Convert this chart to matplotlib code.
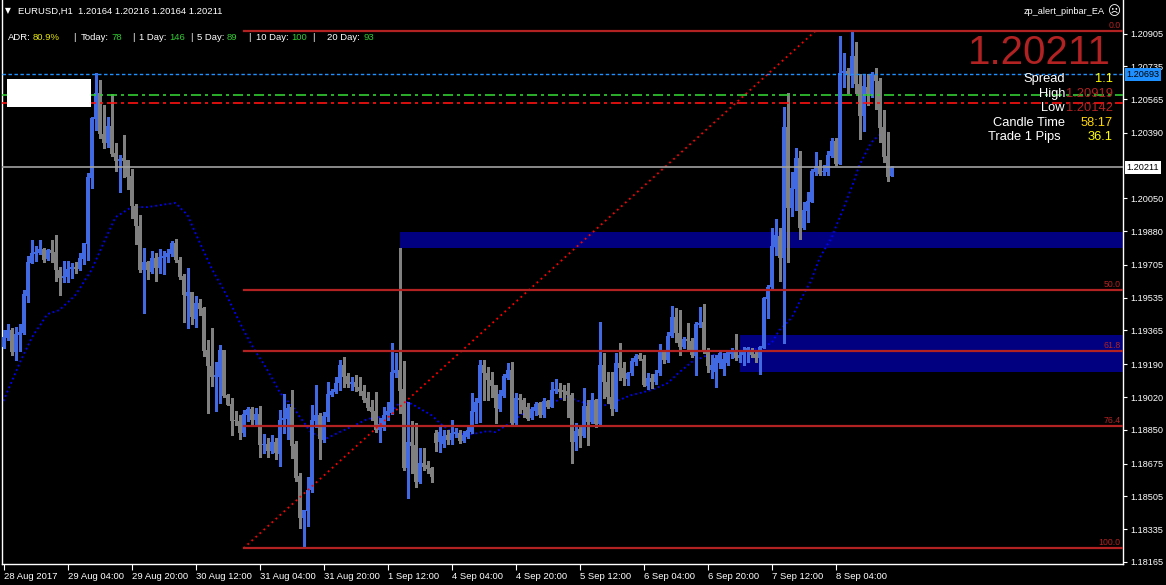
import matplotlib
matplotlib.use("Agg")
import matplotlib.pyplot as plt
from matplotlib.patches import Rectangle
from matplotlib.transforms import blended_transform_factory

plt.rcParams['font.family'] = ['Liberation Sans', 'DejaVu Sans']

# ---- hourly EURUSD candles (28 Aug 12:00 .. 8 Sep 18:00) ----
opens = [1.19281, 1.19324, 1.19368, 1.19255, 1.19342, 1.19350, 1.19544, 1.19717, 1.19762, 1.19766,
         1.19786, 1.19736, 1.19783, 1.19772, 1.19679, 1.19637, 1.19642, 1.19684, 1.19695, 1.19684,
         1.19736, 1.19815, 1.20158, 1.20462, 1.20597, 1.20384, 1.20337, 1.20426, 1.20286, 1.20244,
         1.20260, 1.20249, 1.20166, 1.20011, 1.19907, 1.19679, 1.19720, 1.19668, 1.19741, 1.19689,
         1.19741, 1.19746, 1.19762, 1.19819, 1.19731, 1.19648, 1.19544, 1.19565, 1.19425, 1.19508,
         1.19482, 1.19264, 1.19181, 1.19124, 1.19124, 1.19264, 1.19030, 1.18984, 1.18901, 1.18896,
         1.18833, 1.18927, 1.18958, 1.18901, 1.18932, 1.18771, 1.18776, 1.18740, 1.18787, 1.18725,
         1.18901, 1.18906, 1.18968, 1.18776, 1.18610, 1.18391, 1.18429, 1.18538, 1.18895, 1.18927,
         1.18797, 1.18918, 1.19030, 1.19046, 1.19094, 1.19186, 1.19129, 1.19087, 1.19099, 1.19073,
         1.19051, 1.19016, 1.18970, 1.18947, 1.18849, 1.18857, 1.18927, 1.18939, 1.19146, 1.19160,
         1.19061, 1.18650, 1.18788, 1.18771, 1.18581, 1.18679, 1.18667, 1.18650, 1.18835, 1.18788,
         1.18776, 1.18823, 1.18797, 1.18828, 1.18831, 1.18793, 1.18814, 1.18840, 1.18944, 1.18987,
         1.19186, 1.19146, 1.19108, 1.19082, 1.18956, 1.19025, 1.19120, 1.19160, 1.18887, 1.19016,
         1.19004, 1.18966, 1.18909, 1.18949, 1.18987, 1.18927, 1.19000, 1.18970, 1.19051, 1.19061,
         1.19056, 1.19051, 1.19030, 1.18788, 1.18852, 1.18818, 1.18973, 1.18892, 1.19004, 1.18880,
         1.19185, 1.19100, 1.19021, 1.18958, 1.19199, 1.19168, 1.19116, 1.19142, 1.19203, 1.19237,
         1.19215, 1.19078, 1.19120, 1.19099, 1.19142, 1.19253, 1.19211, 1.19336, 1.19434, 1.19350,
         1.19280, 1.19320, 1.19310, 1.19232, 1.19393, 1.19408, 1.19263, 1.19159, 1.19151, 1.19199,
         1.19165, 1.19199, 1.19241, 1.19255, 1.19223, 1.19237, 1.19251, 1.19263, 1.19241, 1.19223,
         1.19275, 1.19528, 1.19588, 1.19799, 1.19856, 1.19742, 1.20422, 1.19998, 1.20098, 1.20261,
         1.19898, 1.19986, 1.20033, 1.20188, 1.20219, 1.20185, 1.20188, 1.20271, 1.20347, 1.20231,
         1.20698, 1.20712, 1.20686, 1.20788, 1.20641, 1.20479, 1.20629, 1.20589, 1.20690, 1.20659,
         1.20422, 1.20269, 1.20164]
highs = [1.19368, 1.19399, 1.19376, 1.19385, 1.19399, 1.19575, 1.19752, 1.19834, 1.19803, 1.19834,
         1.19791, 1.19788, 1.19834, 1.19860, 1.19696, 1.19726, 1.19726, 1.19716, 1.19722, 1.19767,
         1.19819, 1.20182, 1.20474, 1.20701, 1.20664, 1.20535, 1.20472, 1.20592, 1.20337, 1.20275,
         1.20379, 1.20249, 1.20203, 1.20021, 1.19964, 1.19793, 1.19726, 1.19777, 1.19767, 1.19788,
         1.19777, 1.19788, 1.19829, 1.19840, 1.19746, 1.19658, 1.19689, 1.19565, 1.19544, 1.19528,
         1.19487, 1.19316, 1.19378, 1.19202, 1.19290, 1.19264, 1.19036, 1.19015, 1.18947, 1.18927,
         1.18953, 1.18968, 1.18968, 1.18963, 1.18973, 1.18828, 1.18807, 1.18823, 1.18807, 1.18953,
         1.19036, 1.18984, 1.19056, 1.18792, 1.18628, 1.18434, 1.18607, 1.18978, 1.19082, 1.18935,
         1.18944, 1.19096, 1.19061, 1.19125, 1.19212, 1.19229, 1.19143, 1.19125, 1.19134, 1.19125,
         1.19082, 1.19048, 1.19004, 1.19048, 1.18909, 1.18970, 1.18996, 1.19298, 1.19250, 1.19793,
         1.19208, 1.18996, 1.18895, 1.18883, 1.18754, 1.18754, 1.18690, 1.18655, 1.18849, 1.18863,
         1.18849, 1.18849, 1.18901, 1.18857, 1.18849, 1.18845, 1.18866, 1.19039, 1.19013, 1.19212,
         1.19212, 1.19177, 1.19151, 1.19082, 1.19056, 1.19139, 1.19195, 1.19203, 1.19042, 1.19036,
         1.19013, 1.18987, 1.18970, 1.18996, 1.18996, 1.19013, 1.19004, 1.19099, 1.19112, 1.19091,
         1.19082, 1.19091, 1.19039, 1.18883, 1.18869, 1.19065, 1.19004, 1.19042, 1.19008, 1.19410,
         1.19246, 1.19151, 1.19151, 1.19250, 1.19298, 1.19203, 1.19151, 1.19220, 1.19241, 1.19246,
         1.19237, 1.19142, 1.19137, 1.19159, 1.19293, 1.19258, 1.19358, 1.19491, 1.19483, 1.19471,
         1.19332, 1.19402, 1.19324, 1.19410, 1.19488, 1.19502, 1.19272, 1.19237, 1.19237, 1.19255,
         1.19246, 1.19258, 1.19275, 1.19345, 1.19258, 1.19281, 1.19281, 1.19275, 1.19263, 1.19286,
         1.19540, 1.19600, 1.19894, 1.19941, 1.19894, 1.20522, 1.20595, 1.20188, 1.20313, 1.20295,
         1.20033, 1.20085, 1.20202, 1.20292, 1.20249, 1.20223, 1.20295, 1.20361, 1.20361, 1.20892,
         1.20802, 1.20724, 1.20919, 1.20863, 1.20693, 1.20693, 1.20693, 1.20707, 1.20728, 1.20676,
         1.20508, 1.20392, 1.20216]
lows = [1.19272, 1.19316, 1.19238, 1.19212, 1.19260, 1.19347, 1.19515, 1.19714, 1.19726, 1.19762,
        1.19722, 1.19731, 1.19722, 1.19623, 1.19549, 1.19618, 1.19618, 1.19636, 1.19662, 1.19679,
        1.19710, 1.19732, 1.20106, 1.20405, 1.20363, 1.20313, 1.20317, 1.20270, 1.20192, 1.20083,
        1.20161, 1.20099, 1.19948, 1.19814, 1.19668, 1.19456, 1.19632, 1.19663, 1.19622, 1.19663,
        1.19658, 1.19720, 1.19751, 1.19720, 1.19632, 1.19409, 1.19378, 1.19399, 1.19383, 1.19445,
        1.19233, 1.18937, 1.19077, 1.18947, 1.18989, 1.19020, 1.18978, 1.18823, 1.18875, 1.18802,
        1.18818, 1.18896, 1.18875, 1.18880, 1.18709, 1.18730, 1.18709, 1.18730, 1.18698, 1.18662,
        1.18833, 1.18802, 1.18704, 1.18586, 1.18339, 1.18236, 1.18353, 1.18529, 1.18866, 1.18698,
        1.18788, 1.18895, 1.19025, 1.19039, 1.19056, 1.19073, 1.19073, 1.19056, 1.19053, 1.19030,
        1.18996, 1.18952, 1.18901, 1.18840, 1.18788, 1.18849, 1.18901, 1.18932, 1.19125, 1.18935,
        1.18641, 1.18494, 1.18624, 1.18555, 1.18572, 1.18641, 1.18624, 1.18581, 1.18742, 1.18733,
        1.18762, 1.18776, 1.18776, 1.18814, 1.18783, 1.18788, 1.18805, 1.18831, 1.18883, 1.18892,
        1.19004, 1.19004, 1.19022, 1.18887, 1.18949, 1.19018, 1.19112, 1.18869, 1.18880, 1.18935,
        1.18918, 1.18901, 1.18904, 1.18927, 1.18918, 1.18918, 1.18961, 1.18966, 1.19039, 1.19022,
        1.19004, 1.18918, 1.18679, 1.18745, 1.18762, 1.18814, 1.18771, 1.18883, 1.18866, 1.18875,
        1.19013, 1.18990, 1.18926, 1.18950, 1.19108, 1.19082, 1.19082, 1.19134, 1.19185, 1.19211,
        1.19078, 1.19064, 1.19068, 1.19090, 1.19134, 1.19194, 1.19203, 1.19332, 1.19306, 1.19237,
        1.19272, 1.19268, 1.19229, 1.19134, 1.19384, 1.19246, 1.19151, 1.19120, 1.19073, 1.19168,
        1.19134, 1.19185, 1.19220, 1.19211, 1.19203, 1.19185, 1.19203, 1.19229, 1.19203, 1.19137,
        1.19272, 1.19431, 1.19583, 1.19756, 1.19621, 1.19298, 1.19721, 1.19960, 1.19989, 1.19842,
        1.19891, 1.19929, 1.20029, 1.20174, 1.20171, 1.20174, 1.20174, 1.20266, 1.20223, 1.20226,
        1.20629, 1.20595, 1.20629, 1.20595, 1.20358, 1.20399, 1.20537, 1.20577, 1.20513, 1.20340,
        1.20237, 1.20142, 1.20164]
closes = [1.19333, 1.19368, 1.19255, 1.19347, 1.19359, 1.19555, 1.19721, 1.19766, 1.19772, 1.19788,
          1.19731, 1.19781, 1.19769, 1.19679, 1.19639, 1.19648, 1.19684, 1.19695, 1.19684, 1.19740,
          1.19819, 1.20161, 1.20465, 1.20597, 1.20384, 1.20337, 1.20426, 1.20280, 1.20244, 1.20254,
          1.20244, 1.20161, 1.20011, 1.19907, 1.19679, 1.19720, 1.19679, 1.19741, 1.19689, 1.19746,
          1.19751, 1.19767, 1.19819, 1.19731, 1.19642, 1.19549, 1.19565, 1.19435, 1.19508, 1.19476,
          1.19259, 1.19181, 1.19124, 1.19134, 1.19264, 1.19025, 1.18978, 1.18896, 1.18897, 1.18833,
          1.18932, 1.18958, 1.18901, 1.18932, 1.18771, 1.18776, 1.18740, 1.18787, 1.18730, 1.18901,
          1.18911, 1.18963, 1.18766, 1.18600, 1.18391, 1.18434, 1.18538, 1.18901, 1.18927, 1.18802,
          1.18921, 1.19036, 1.19051, 1.19094, 1.19186, 1.19125, 1.19087, 1.19099, 1.19073, 1.19051,
          1.19004, 1.18965, 1.18944, 1.18849, 1.18880, 1.18927, 1.18949, 1.19151, 1.19160, 1.19053,
          1.18650, 1.18788, 1.18766, 1.18581, 1.18679, 1.18659, 1.18645, 1.18607, 1.18783, 1.18840,
          1.18818, 1.18797, 1.18835, 1.18840, 1.18792, 1.18823, 1.18849, 1.18949, 1.18996, 1.19186,
          1.19146, 1.19108, 1.19079, 1.18965, 1.19036, 1.19131, 1.19160, 1.18883, 1.19013, 1.19004,
          1.18952, 1.18904, 1.18956, 1.18984, 1.18927, 1.19000, 1.18970, 1.19056, 1.19061, 1.19048,
          1.19048, 1.19030, 1.18788, 1.18845, 1.18818, 1.18973, 1.18892, 1.19004, 1.18880, 1.19186,
          1.19100, 1.19021, 1.18956, 1.19198, 1.19168, 1.19120, 1.19142, 1.19206, 1.19232, 1.19215,
          1.19082, 1.19120, 1.19099, 1.19140, 1.19253, 1.19211, 1.19336, 1.19434, 1.19350, 1.19280,
          1.19320, 1.19310, 1.19237, 1.19398, 1.19405, 1.19263, 1.19182, 1.19185, 1.19220, 1.19246,
          1.19215, 1.19253, 1.19258, 1.19223, 1.19237, 1.19255, 1.19272, 1.19237, 1.19223, 1.19279,
          1.19531, 1.19588, 1.19803, 1.19860, 1.19742, 1.20422, 1.19998, 1.20105, 1.20261, 1.19898,
          1.19989, 1.20036, 1.20193, 1.20219, 1.20176, 1.20192, 1.20275, 1.20347, 1.20226, 1.20703,
          1.20712, 1.20690, 1.20788, 1.20641, 1.20479, 1.20633, 1.20589, 1.20690, 1.20659, 1.20416,
          1.20266, 1.20162, 1.20211]

# moving average (dotted blue) read at some bars
ma_bar = [0, 4, 7, 11, 14, 18, 22, 25, 28, 32, 36, 41, 43, 46, 49, 52, 56, 59, 62, 66, 69, 72,
          77, 81, 84, 88, 91, 96, 99, 101, 103, 107, 109, 112, 116, 121, 123, 127, 130, 133, 137,
          141, 143, 147, 149, 152, 157, 162, 166, 169, 172, 176, 182, 189, 192, 194, 197, 199,
          202, 204, 207, 209, 212, 214, 217, 219, 221]
ma_val = [1.18999, 1.19196, 1.19326, 1.19450, 1.19471, 1.19549, 1.19679, 1.19819, 1.19953,
          1.20005, 1.20005, 1.20021, 1.20026, 1.19964, 1.19824, 1.19689, 1.19538, 1.19409,
          1.19290, 1.19160, 1.19046, 1.18978, 1.18833, 1.18807, 1.18838, 1.18875, 1.18906,
          1.18922, 1.18989, 1.18994, 1.18973, 1.18926, 1.18886, 1.18838, 1.18823, 1.18843,
          1.18838, 1.18890, 1.18937, 1.18968, 1.18989, 1.19025, 1.19004, 1.18978, 1.18968,
          1.18989, 1.19030, 1.19056, 1.19092, 1.19149, 1.19201, 1.19238, 1.19243, 1.19274,
          1.19300, 1.19367, 1.19430, 1.19513, 1.19627, 1.19741, 1.19845, 1.19948, 1.20104,
          1.20223, 1.20342, 1.20379, 1.20394]

tick_bars = [0, 16, 32, 48, 64, 80, 96, 112, 128, 144, 160, 176, 192, 208]
tick_labels = ["28 Aug 2017", "29 Aug 04:00", "29 Aug 20:00", "30 Aug 12:00", "31 Aug 04:00",
               "31 Aug 20:00", "1 Sep 12:00", "4 Sep 04:00", "4 Sep 20:00", "5 Sep 12:00",
               "6 Sep 04:00", "6 Sep 20:00", "7 Sep 12:00", "8 Sep 04:00"]
price_ticks = [1.20905, 1.20735, 1.20565, 1.20390, 1.20050, 1.19880, 1.19705, 1.19535,
               1.19365, 1.19190, 1.19020, 1.18850, 1.18675, 1.18505, 1.18335, 1.18165]

fib_bars = [60, 203]
fib_low, fib_high = 1.18236, 1.20919
fib_levels = [0.0, 50.0, 61.8, 76.4, 100.0]

zone_upper = (99, 1.19793, 1.19876)
zone_lower = (184, 1.19151, 1.19341)

bid = 1.20211
ask_line = 1.20693
green_line = 1.20586
red_line = 1.20545

W, H = 1166, 585
fig = plt.figure(figsize=(W / 100, H / 100), dpi=100, facecolor='black')
ax = fig.add_axes([2 / W, 21 / H, 1121 / W, 564 / H])
ax.set_facecolor('black')
ax.set_xlim(-0.375, 279.875)
ax.set_ylim(1.18154, 1.21079)

bull, bear = '#4169e1', '#808080'
fib_red = '#b22222'
right_edge = ax.get_xlim()[1]

# zones
for start, lo, hi in (zone_upper, zone_lower):
    ax.add_patch(Rectangle((start, lo), right_edge - start, hi - lo,
                           facecolor='#000080', edgecolor='none', zorder=1))

# moving average
ax.plot(ma_bar, ma_val, color='#0000ff', lw=1.3, ls=(0, (1.0, 1.6)), zorder=2)

# candles
idx = list(range(len(opens)))
cols = [bull if c >= o else bear for o, c in zip(opens, closes)]
ax.vlines(idx, lows, highs, colors=cols, lw=0.9, zorder=3, antialiased=False)
bottoms = [min(o, c) for o, c in zip(opens, closes)]
heights = [max(abs(c - o), 0.00005) for o, c in zip(opens, closes)]
ax.bar(idx, heights, bottom=bottoms, width=0.75, color=cols, linewidth=0, zorder=3,
       antialiased=False)

# fibonacci
ax.plot(fib_bars, [fib_low, fib_high], color='#ff0000', lw=1.3, ls=(0, (1.0, 2.0)), zorder=4)
for lev in fib_levels:
    p = fib_high - (fib_high - fib_low) * lev / 100
    ax.plot([fib_bars[0], right_edge], [p, p], color=fib_red, lw=1.6, zorder=4)
    ax.text(right_edge - 0.6, p + 0.00005, f"{lev:.1f}", color=fib_red, fontsize=6.3,
            ha='right', va='bottom', zorder=6)

# horizontal lines
ax.axhline(ask_line, color='#1e90ff', lw=1.0, ls=(0, (2.5, 1.8)), zorder=4)
ax.axhline(green_line, color='#32cd32', lw=1.2, ls=(0, (6, 2.4, 1.8, 2.4)), zorder=4)
ax.axhline(red_line, color='#ff1010', lw=1.2, ls=(0, (6, 2.4, 1.8, 2.4)), zorder=4)
ax.axhline(bid, color='#a0a0a0', lw=1.2, zorder=4)

# axes styling
for s in ('left', 'bottom', 'right'):
    ax.spines[s].set_color('white')
    ax.spines[s].set_linewidth(1.0)
ax.spines['top'].set_visible(False)
ax.yaxis.tick_right()
ax.set_yticks(price_ticks)
ax.set_yticklabels([f"{v:.5f}" for v in price_ticks])
ax.tick_params(axis='y', colors='white', labelsize=6.6, length=3, width=0.8, pad=2, direction='out')
ax.set_xticks(tick_bars)
ax.set_xticklabels(tick_labels, ha='left')
ax.tick_params(axis='x', colors='white', labelsize=6.8, length=4, width=0.8, pad=2, direction='out')

tr = blended_transform_factory(ax.transAxes, ax.transData)
ax.text(1.003, bid, f"{bid:.5f}", transform=tr, color='black', fontsize=6.6, va='center', ha='left',
        bbox=dict(boxstyle='square,pad=0.2', facecolor='white', edgecolor='none'), zorder=7)
ax.text(1.003, ask_line, f"{ask_line:.5f}", transform=tr, color='black', fontsize=6.6,
        va='center', ha='left',
        bbox=dict(boxstyle='square,pad=0.2', facecolor='#1e90ff', edgecolor='none'), zorder=7)


def fx(x):
    return x / W


def fy(y):
    return 1 - y / H


# white label box at top-left
fig.patches.append(Rectangle((fx(7), fy(107)), 84 / W, 28 / H, transform=fig.transFigure,
                             facecolor='white', edgecolor='none', zorder=5))

# header texts
fig.text(fx(5), fy(11), "\u25BC", color='white', fontsize=5.5, va='center', ha='left',
         family='DejaVu Sans')
fig.text(fx(18), fy(11), "EURUSD,H1  1.20164 1.20216 1.20164 1.20211", color='white',
         fontsize=6.8, va='center', ha='left')

adr_parts = [(8, "ADR:", 'white'), (33, "80.9%", '#e6e600'), (73, "|", 'white'),
             (81, "Today:", 'white'), (111, "78", '#32cd32'), (132, "|", 'white'),
             (139, "1 Day:", 'white'), (169, "146", '#32cd32'), (190, "|", 'white'),
             (197, "5 Day:", 'white'), (227, "89", '#32cd32'), (248, "|", 'white'),
             (256, "10 Day:", 'white'), (291, "100", '#32cd32'), (312, "|", 'white'),
             (327, "20 Day:", 'white'), (363, "93", '#32cd32')]
for x, s, c in adr_parts:
    fig.text(fx(x), fy(38), s, color=c, fontsize=6.8, va='center', ha='left')

fig.text(fx(1105), fy(12), "zp_alert_pinbar_EA", color='white', fontsize=6.6, va='center', ha='right')
fig.text(fx(1114), fy(12), "\u2639", color='white', fontsize=9, va='center', ha='center',
         family='DejaVu Sans')

fig.text(fx(1111), fy(53), "1.20211", color=fib_red, fontsize=29, va='center', ha='right')

info_rows = [(79, "Spread", "1.1", '#ffff00'), (94, "High", "1.20919", fib_red),
             (108, "Low", "1.20142", fib_red), (123, "Candle Time", "58:17", '#ffd700'),
             (137, "Trade 1 Pips", "36.1", '#ffff00')]
for y, lab, val, c in info_rows:
    lx = 1061 if lab.startswith("Trade") else 1065
    fig.text(fx(lx), fy(y), lab, color='white', fontsize=9.3, va='center', ha='right')
    fig.text(fx(1113), fy(y), val, color=c, fontsize=9.3, va='center', ha='right')

fig.savefig("out.png", dpi=100, facecolor='black')
